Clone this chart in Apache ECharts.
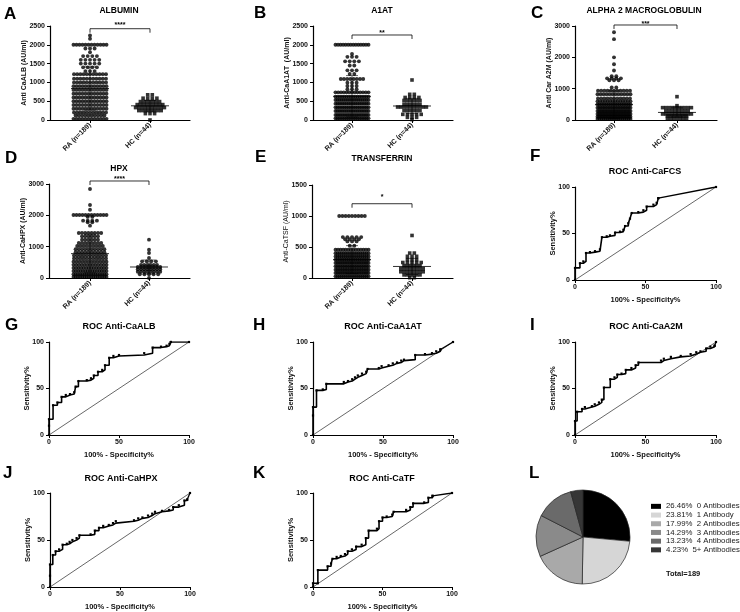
<!DOCTYPE html>
<html>
<head>
<meta charset="utf-8">
<script src="https://cdn.jsdelivr.net/npm/echarts@6/dist/echarts.min.js"></script>
<style>
  html, body { margin: 0; padding: 0; background: #fff; }
  #main { width: 740px; height: 612px; }
</style>
</head>
<body>
<div id="main"></div>
<script>
// ---------- data ----------
var groupLabels = ['RA (n=189)', 'HC (n=44)'];

// A - albumin (AU/ml)
var albRA = [
  2250, 2160,
  2000,2000,2000,2000,2000,2000,2000,2000,2000,2000,2000,2000,
  1900,1900,1900, 1800,
  1700,1700,1700,1700,
  1600,1600,1600,1600,1600,
  1500,1500,1500,1500,1500,
  1400,1400,1400,1400,
  1300,1300,1300,
  1220,1220,1220,1220,1220,1220,1220,1220,1220,1220,1220,
  1100,1100,1100,1100,1100,1100,1100,1100,1100,1100,1100,
  1000,1000,1000,1000,1000,1000,1000,1000,1000,1000,1000,
  900,900,900,900,900,900,900,900,900,900,900,900,
  800,800,800,800,800,800,800,800,800,800,800,800,
  700,700,700,700,700,700,700,700,700,700,700,700,
  600,600,600,600,600,600,600,600,600,600,600,600,
  500,500,500,500,500,500,500,500,500,500,500,500,
  400,400,400,400,400,400,400,400,400,400,400,400,
  300,300,300,300,300,300,300,300,300,300,300,300,
  200,200,200,200,200,200,200,200,200,200,200,
  120,120,120,120,120,120,120,120,120,120,
  30,30,30,30,30,30,30,30,30,30,30,30
];
var albHC = [
  670,670, 580,580,580,580,
  490,490,490,490,490,490,490,
  410,410,410,410,410,410,410,410,410,
  330,330,330,330,330,330,330,330,330,330,
  250,250,250,250,250,250,250,250,
  170,170,170, 0
];

// B - alpha-1 antitrypsin
var a1atRA = [
  2000,2000,2000,2000,2000,2000,2000,2000,2000,2000,2000,2000,2000,2000,
  1756, 1680,1680,1680, 1560,1560,1560,1560, 1450,1450,
  1320,1320,1320, 1224,1224,
  1090,1090,1090,1090,1090,1090,1090,1090,
  993,993,993, 905,905,905, 816,816,816,
  736,736,736,736,736,736,736,736,736,736,736,736,736,
  620,620,620,620,620,620,620,620,620,620,620,620,620,620,620,620,
  532,532,532,532,532,532,532,532,532,532,532,532,532,532,532,532,532,532,
  435,435,435,435,435,435,435,435,435,435,435,435,435,435,435,435,435,435,435,
  337,337,337,337,337,337,337,337,337,337,337,337,337,337,337,337,337,337,337,
  240,240,240,240,240,240,240,240,240,240,240,240,240,240,240,240,240,240,240,
  133,133,133,133,133,133,133,133,133,133,133,133,133,133,133,133,133,133,133,133,
  44,44,44,44,44,44,44,44,44,44,44,44,44,44,44,44,44,44,44
];
var a1atHC = [
  1064, 683,683, 600,600,600,600,
  520,520,520,520,520,520,
  420,420,420,420,420,420,
  345,345,345,345,345,345,345,345,345,345,
  250,250,250,250,250,250,
  150,150,150,150,150, 70,70,70, 10
];

// C - alpha-2 macroglobulin
var a2mRA = [
  2800, 2580, 2000, 1780, 1580,
  1400,1400, 1330,1330,1330,1330, 1270,1270,1270, 1040,1040,
  936,936,936,936,936,936,936,936,936,936,936,
  820,820,820,820,820,820,820,820,820,820,820,820,
  690,690,690,690,690,690,690,690,690,690,690,
  596,596,596,596,596,596,596,596,596,596,596,596,596,596,
  500,500,500,500,500,500,500,500,500,500,500,500,500,500,500,500,500,500,500,
  394,394,394,394,394,394,394,394,394,394,394,394,394,394,394,394,394,394,394,394,394,
  287,287,287,287,287,287,287,287,287,287,287,287,287,287,287,287,287,287,287,287,287,287,
  191,191,191,191,191,191,191,191,191,191,191,191,191,191,191,191,191,191,191,191,191,191,191,
  106,106,106,106,106,106,106,106,106,106,106,106,106,106,106,106,106,106,106,106,106,106,106,
  32,32,32,32,32,32,32,32,32,32,32,32,32,32,32,32,32
];
var a2mHC = [
  745, 457,
  394,394,394,394,394,394,394,394,394,394,
  290,290,290,290,290,290,290,290,
  191,191,191,191,191,191,191,191,191,191,
  130,130,130,130,130,130,130,
  53,53,53,53,53,53,53
];

// D - hemopexin
var hpxRA = [
  2840, 2330, 2180,
  2010,2010,2010,2010,2010,2010,2010,2010,2010,2010,2010,2010,
  1950,1950, 1830,1830,1830,1830, 1777,1777, 1670,
  1436,1436,1436,1436,1436,1436,1436,1436,
  1330,1330,1330,1330,1330,1330,
  1224,1224,1224,1224,1224,1224,
  1120,1120,1120,1120,1120,1120,1120,1120,
  1020,1020,1020,1020,1020,1020,1020,1020,1020,
  920,920,920,920,920,920,920,920,920,920,
  820,820,820,820,820,820,820,820,820,820,
  720,720,720,720,720,720,720,720,720,720,720,
  620,620,620,620,620,620,620,620,620,620,620,
  520,520,520,520,520,520,520,520,520,520,520,520,
  420,420,420,420,420,420,420,420,420,420,420,420,420,
  320,320,320,320,320,320,320,320,320,320,320,320,320,320,
  220,220,220,220,220,220,220,220,220,220,220,220,220,220,220,
  120,120,120,120,120,120,120,120,120,120,120,120,120,120,120,120,
  30,30,30,30,30,30,30,30,30,30,30,30,30,30,30,30
];
var hpxHC = [
  1224, 904, 798, 638,
  532,532,532,532,
  420,420,420,420,420,420,
  350,350,350,350,350,350,350,350,
  280,280,280,280,280,280,280,280,
  200,200,200,200,200,200,200,200,
  120,120,120,120,120, 0
];

// E - transferrin
var tsfRA = [
  1000,1000,1000,1000,1000,1000,1000,1000,1000,
  660,660,660,660,660, 625,625,625,625, 590,590,590, 520,520,
  455,455,455,455,455,455,455,455,455,455,455,455,455,455,
  400,400,400,400,400,400,400,400,400,400,400,400,400,400,400,400,400,
  348,348,348,348,348,348,348,348,348,348,348,348,348,348,348,348,348,348,
  295,295,295,295,295,295,295,295,295,295,295,295,295,295,295,295,295,295,295,
  241,241,241,241,241,241,241,241,241,241,241,241,241,241,241,241,241,241,241,241,
  188,188,188,188,188,188,188,188,188,188,188,188,188,188,188,188,188,188,188,188,
  134,134,134,134,134,134,134,134,134,134,134,134,134,134,134,134,134,134,134,134,
  80,80,80,80,80,80,80,80,80,80,80,80,80,80,80,80,80,80,80,80,
  27,27,27,27,27,27,27,27,27,27,27,27,27,27,27,27,27,27
];
var tsfHC = [
  686, 402,402, 350,350,350, 295,295,295,
  250,250,250,250,250,
  200,200,200,200,200,200,
  150,150,150,150,150,150,150,150,
  100,100,100,100,100,100,100,100,
  50,50,50,50,50,50, 5,5
];

// ROC curves: x = 100% - specificity, y = sensitivity (step vertices)
var rocFcsX = [0, 0, 3.5, 5.9, 7.8, 10.6, 14.2, 17.7, 19.1, 22.5, 24.8, 28.4, 31.9, 34.3, 35.5, 37.8, 39, 40.2, 44.9, 48.5, 50.8, 55.6, 57.9, 59.1];
var rocFcsY = [0, 13, 18, 20, 29, 30, 31, 33, 46, 47, 48, 51, 52, 54, 58, 61, 66, 72, 73, 75, 79, 81, 83, 88];
var rocAlbX = [0, 0, 0, 2.9, 6, 9, 12, 15, 18, 19, 21, 27, 30, 32, 35, 38, 40, 43, 46, 50, 68, 74, 80, 84, 86, 87];
var rocAlbY = [0, 10, 17, 32, 35, 41, 43, 44, 46, 52, 58, 59, 61, 64, 68, 70, 75, 83, 85, 86, 88, 94, 95, 96, 98, 100];
var rocA1atX = [0, 0, 0, 2.5, 7, 9.5, 22, 25, 28, 30, 32, 35, 38, 39, 47, 49, 54, 57, 60, 63, 65, 73, 80, 85, 88, 91];
var rocA1atY = [0, 21, 30, 48, 49, 55, 57, 58, 60, 62, 64, 66, 68, 71, 72, 74, 75, 77, 78, 80, 81, 86, 87, 88, 90, 92];
var rocA2mX = [0, 0, 1.5, 5, 7, 12, 14, 17, 19, 20.5, 25, 28, 30, 33, 36, 40, 43, 45, 61, 63, 68, 75, 82, 86, 89, 93, 96, 99];
var rocA2mY = [0, 15, 25, 28, 30, 31, 33, 35, 38, 51, 60, 62, 65, 66, 70, 72, 75, 78, 80, 82, 84, 85, 87, 89, 90, 93, 95, 96];
var rocHpxX = [0, 0, 0, 2, 4, 6.5, 9, 12, 14, 16, 19, 21, 29, 32, 35, 38, 42, 45, 47, 60, 63, 66, 70, 73, 75, 80, 85, 88, 92, 96, 98];
var rocHpxY = [0, 12, 24, 34, 38, 40, 45, 46, 48, 50, 52, 55, 56, 60, 63, 65, 66, 68, 70, 71, 73, 74, 76, 78, 80, 81, 82, 85, 87, 92, 93];
var rocTfX = [0, 0, 3.5, 3.5, 10.5, 13, 14, 17, 20, 23, 25, 28, 31, 35, 38, 40, 46, 47.5, 50, 53, 57, 58, 67, 70, 72, 80, 83, 86];
var rocTfY = [0, 4, 4, 18, 22, 25, 30, 32, 33, 35, 38, 40, 43, 45, 52, 60, 62, 70, 74, 75, 77, 80, 82, 85, 89, 90, 95, 97];

// L - number of antibodies per patient
var abNames = ['0 Antibodies', '1 Antibody', '2 Antibodies', '3 Antibodies', '4 Antibodies', '5+ Antibodies'];
var abCounts = [50, 45, 34, 27, 25, 8];
var abColors = ['#000000', '#d6d6d6', '#a9a9a9', '#8a8a8a', '#6a6a6a', '#363636'];

// ---------- layout ----------
var FONT = '"Liberation Sans", Arial, sans-serif';

var dotPanels = [
  { letter: 'A', title: 'ALBUMIN', tx: 119, ty: 11, ra: albRA, hc: albHC, hcShape: 'rect',
    yMax: 2500, yStep: 500, yName: 'Anti CaALB (AU/ml)', stars: '****', sigY: 2428, starUp: 5.4,
    grid: { left: 50, top: 26, width: 140, height: 94 }, xMin: 0.333, xMax: 2.667 },
  { letter: 'B', title: 'A1AT', tx: 382, ty: 11, ra: a1atRA, hc: a1atHC, hcShape: 'rect',
    yMax: 2500, yStep: 500, yName: 'Anti-CaA1AT  (AU/ml)', stars: '**', sigY: 2261, starUp: 3.6,
    grid: { left: 313, top: 26, width: 140, height: 94 }, xMin: 0.35, xMax: 2.683 },
  { letter: 'C', title: 'ALPHA 2 MACROGLOBULIN', tx: 644, ty: 11, ra: a2mRA, hc: a2mHC, hcShape: 'rect',
    yMax: 3000, yStep: 1000, yName: 'Anti Car A2M (AU/ml)', stars: '***', sigY: 3032, starUp: 2.8,
    grid: { left: 575, top: 26, width: 142, height: 94 }, xMin: 0.381, xMax: 2.635 },
  { letter: 'D', title: 'HPX', tx: 119, ty: 169, ra: hpxRA, hc: hpxHC, hcShape: 'circle',
    yMax: 3000, yStep: 1000, yName: 'Anti-CaHPX (AU/ml)', stars: '****', sigY: 3096, starUp: 3.2,
    grid: { left: 49, top: 184, width: 141, height: 94 }, xMin: 0.305, xMax: 2.695 },
  { letter: 'E', title: 'TRANSFERRIN', tx: 382, ty: 159, ra: tsfRA, hc: tsfHC, hcShape: 'rect',
    yMax: 1500, yStep: 500, yName: 'Anti-CaTSF (AU/ml)', stars: '*', sigY: 1198, starUp: 8.7, thinName: true,
    grid: { left: 312, top: 185, width: 141, height: 93 }, xMin: 0.333, xMax: 2.683 }
];

var rocPanels = [
  { letter: 'F', lx: 530, ly: 156, title: 'ROC Anti-CaFCS', tx: 645, ty: 172, x: rocFcsX, y: rocFcsY,
    grid: { left: 575, top: 187, width: 141, height: 93 } },
  { letter: 'G', lx: 5, ly: 325, title: 'ROC Anti-CaALB', tx: 119, ty: 327, x: rocAlbX, y: rocAlbY,
    grid: { left: 49, top: 342, width: 140, height: 93 } },
  { letter: 'H', lx: 253, ly: 325, title: 'ROC Anti-CaA1AT', tx: 383, ty: 327, x: rocA1atX, y: rocA1atY,
    grid: { left: 313, top: 342, width: 140, height: 93 } },
  { letter: 'I', lx: 530, ly: 325, title: 'ROC Anti-CaA2M', tx: 646, ty: 327, x: rocA2mX, y: rocA2mY,
    grid: { left: 575, top: 342, width: 141, height: 93 } },
  { letter: 'J', lx: 3, ly: 473, title: 'ROC Anti-CaHPX', tx: 121, ty: 479, x: rocHpxX, y: rocHpxY,
    grid: { left: 50, top: 493, width: 140, height: 94 } },
  { letter: 'K', lx: 253, ly: 473, title: 'ROC Anti-CaTF', tx: 382, ty: 479, x: rocTfX, y: rocTfY,
    grid: { left: 313, top: 493, width: 139, height: 94 } }
];
var dotLetterPos = [[4, 14], [254, 13], [531, 13], [5, 158], [255, 157]];

// ---------- helpers ----------
// spread equal values sideways like a GraphPad scatter-dot column
function swarm(values, group, pxPerX) {
  var rows = {};
  values.forEach(function (v) { (rows[v] = rows[v] || []).push(v); });
  var pts = [];
  Object.keys(rows).forEach(function (k) {
    var n = rows[k].length;
    var step = n <= 1 ? 0 : (n <= 5 ? 4.6 : Math.min(3.2, 33 / (n - 1)));
    rows[k].forEach(function (v, i) {
      pts.push([group + (i - (n - 1) / 2) * step / pxPerX, v]);
    });
  });
  return pts;
}
function meanSd(a) {
  var m = a.reduce(function (s, v) { return s + v; }, 0) / a.length;
  var ss = a.reduce(function (s, v) { return s + (v - m) * (v - m); }, 0);
  return [m, Math.sqrt(ss / (a.length - 1))];
}
function lineEl(x1, y1, x2, y2, w, c) {
  return { type: 'line', shape: { x1: x1, y1: y1, x2: x2, y2: y2 }, style: { stroke: c || '#444', lineWidth: w || 0.8 } };
}

var axisLineStyle = { show: true, lineStyle: { color: '#000', width: 1.2 } };
var tickStyle = { show: true, length: 3, lineStyle: { color: '#000', width: 1 } };
var labelStyle = { fontSize: 7, fontWeight: 'bold', color: '#111', fontFamily: FONT };
var plain = function (v) { return String(v); };

var grids = [], xAxes = [], yAxes = [], series = [], texts = [];

dotPanels.forEach(function (p, i) {
  grids.push(Object.assign({ containLabel: false, outerBoundsMode: 'none' }, p.grid));
  xAxes.push({
    gridIndex: i, type: 'value', min: p.xMin, max: p.xMax,
    axisLine: axisLineStyle, splitLine: { show: false },
    axisTick: Object.assign({ customValues: [1, 2] }, tickStyle),
    axisLabel: Object.assign({ customValues: [1, 2], rotate: 45, margin: 4,
      formatter: function (v) { return groupLabels[Math.round(v) - 1] || ''; } }, labelStyle)
  });
  yAxes.push({
    gridIndex: i, type: 'value', min: 0, max: p.yMax, interval: p.yStep,
    axisLine: axisLineStyle, axisTick: tickStyle, splitLine: { show: false },
    axisLabel: Object.assign({ margin: 5, formatter: plain }, labelStyle),
    name: p.yName, nameLocation: 'middle', nameGap: 22, nameMoveOverlap: false,
    nameTextStyle: { fontSize: 7, fontWeight: p.thinName ? 'normal' : 'bold', color: '#111', fontFamily: FONT }
  });
  var pxPerX = p.grid.width / (p.xMax - p.xMin);
  series.push({
    type: 'scatter', xAxisIndex: i, yAxisIndex: i, symbol: 'circle', symbolSize: 3.9,
    itemStyle: { color: '#000' }, data: swarm(p.ra, 1, pxPerX), silent: true
  });
  series.push({
    type: 'scatter', xAxisIndex: i, yAxisIndex: i, symbol: p.hcShape, symbolSize: p.hcShape === 'rect' ? 3.6 : 3.9,
    itemStyle: { color: '#000' }, data: swarm(p.hc, 2, pxPerX), silent: true
  });
  var ms1 = meanSd(p.ra), ms2 = meanSd(p.hc);
  series.push({
    type: 'custom', xAxisIndex: i, yAxisIndex: i, silent: true,
    data: [[1, ms1[0], ms1[1]], [2, ms2[0], ms2[1]]],
    encode: { x: 0, y: 1 },
    renderItem: function (params, api) {
      var g = api.value(0), m = api.value(1), sd = api.value(2);
      var c = api.coord([g, m]);
      var t = api.coord([g, m + sd]);
      var b = api.coord([g, Math.max(0, m - sd)]);
      return { type: 'group', children: [
        lineEl(c[0] - 19, c[1], c[0] + 19, c[1], 1, '#333'),
        lineEl(c[0], t[1], c[0], b[1]),
        lineEl(c[0] - 6, t[1], c[0] + 6, t[1]),
        lineEl(c[0] - 6, b[1], c[0] + 6, b[1])
      ] };
    }
  });
  series.push({
    type: 'custom', xAxisIndex: i, yAxisIndex: i, silent: true, clip: false,
    data: [[1, p.sigY, 2]], encode: { x: 0, y: 1 },
    renderItem: function (params, api) {
      var a = api.coord([api.value(0), api.value(1)]);
      var b = api.coord([api.value(2), api.value(1)]);
      return { type: 'group', children: [
        { type: 'polyline', shape: { points: [[a[0], a[1] + 4], [a[0], a[1]], [b[0], b[1]], [b[0], b[1] + 4]] },
          style: { stroke: '#000', fill: null, lineWidth: 0.8 } },
        { type: 'text', x: (a[0] + b[0]) / 2, y: a[1] - p.starUp + 1.6,
          style: { text: p.stars, align: 'center', verticalAlign: 'middle', fontSize: 7, fontWeight: 'bold', fill: '#000', fontFamily: FONT } }
      ] };
    }
  });
  texts.push({ type: 'text', x: dotLetterPos[i][0], y: dotLetterPos[i][1],
    style: { text: p.letter, fontSize: 17, fontWeight: 'bold', fill: '#000', verticalAlign: 'middle', fontFamily: FONT } });
  texts.push({ type: 'text', x: p.tx, y: p.ty,
    style: { text: p.title, fontSize: 8.5, fontWeight: 'bold', fill: '#000', align: 'center', verticalAlign: 'middle', fontFamily: FONT } });
});

rocPanels.forEach(function (p, j) {
  var k = dotPanels.length + j;
  grids.push(Object.assign({ containLabel: false, outerBoundsMode: 'none' }, p.grid));
  xAxes.push({
    gridIndex: k, type: 'value', min: 0, max: 100, interval: 50,
    axisLine: axisLineStyle, axisTick: tickStyle, splitLine: { show: false },
    axisLabel: Object.assign({ margin: 4 }, labelStyle),
    name: '100% - Specificity%', nameLocation: 'middle', nameGap: 16, nameMoveOverlap: false,
    nameTextStyle: { fontSize: 7.5, fontWeight: 'bold', color: '#111', fontFamily: FONT }
  });
  yAxes.push({
    gridIndex: k, type: 'value', min: 0, max: 100, interval: 50,
    axisLine: axisLineStyle, axisTick: tickStyle, splitLine: { show: false },
    axisLabel: Object.assign({ margin: 5 }, labelStyle),
    name: 'Sensitivity%', nameLocation: 'middle', nameGap: 18, nameMoveOverlap: false,
    nameTextStyle: { fontSize: 7.5, fontWeight: 'bold', color: '#111', fontFamily: FONT }
  });
  var pts = p.x.map(function (x, n) { return [x, p.y[n]]; });
  var last = pts[pts.length - 1];
  series.push({
    type: 'line', xAxisIndex: k, yAxisIndex: k, silent: true, symbol: 'none',
    lineStyle: { color: '#000', width: 0.6 }, data: [[0, 0], [100, 100]]
  });
  series.push({
    type: 'line', xAxisIndex: k, yAxisIndex: k, silent: true, step: 'end',
    symbol: 'rect', symbolSize: 2.2, showSymbol: true, itemStyle: { color: '#000' },
    lineStyle: { color: '#000', width: 1.6 }, data: pts
  });
  series.push({
    type: 'line', xAxisIndex: k, yAxisIndex: k, silent: true,
    symbol: 'rect', symbolSize: 2.2, itemStyle: { color: '#000' },
    lineStyle: { color: '#000', width: 1.3 }, data: [last, [100, 100]]
  });
  texts.push({ type: 'text', x: p.lx, y: p.ly,
    style: { text: p.letter, fontSize: 17, fontWeight: 'bold', fill: '#000', verticalAlign: 'middle', fontFamily: FONT } });
  texts.push({ type: 'text', x: p.tx, y: p.ty,
    style: { text: p.title, fontSize: 9, fontWeight: 'bold', fill: '#000', align: 'center', verticalAlign: 'middle', fontFamily: FONT } });
});

// L - pie
var abTotal = abCounts.reduce(function (s, v) { return s + v; }, 0);
series.push({
  type: 'pie', center: [583, 537], radius: 47, startAngle: 90, clockwise: true,
  silent: true, label: { show: false }, labelLine: { show: false },
  itemStyle: { borderColor: '#222', borderWidth: 0.7 },
  data: abNames.map(function (n, i) { return { name: n, value: abCounts[i], itemStyle: { color: abColors[i] } }; })
});
texts.push({ type: 'text', x: 529, y: 473,
  style: { text: 'L', fontSize: 17, fontWeight: 'bold', fill: '#000', verticalAlign: 'middle', fontFamily: FONT } });
texts.push({ type: 'text', x: 666, y: 574,
  style: { text: 'Total=' + abTotal, fontSize: 7.5, fontWeight: 'bold', fill: '#111', verticalAlign: 'middle', fontFamily: FONT } });

var chart = echarts.init(document.getElementById('main'), null, { renderer: 'canvas' });
chart.setOption({
  animation: false,
  backgroundColor: '#fff',
  textStyle: { fontFamily: FONT },
  grid: grids,
  xAxis: xAxes,
  yAxis: yAxes,
  legend: {
    data: abNames, orient: 'vertical', left: 651, top: 502, padding: 0,
    itemWidth: 10, itemHeight: 5, itemGap: 0, icon: 'rect', selectedMode: false,
    itemStyle: { borderWidth: 0 },
    textStyle: { fontSize: 7.8, color: '#222', lineHeight: 8.7, fontFamily: FONT },
    formatter: function (name) {
      var i = abNames.indexOf(name);
      return (abCounts[i] / abTotal * 100).toFixed(2) + '%  ' + name;
    }
  },
  graphic: { elements: texts },
  series: series
});
</script>
</body>
</html>
